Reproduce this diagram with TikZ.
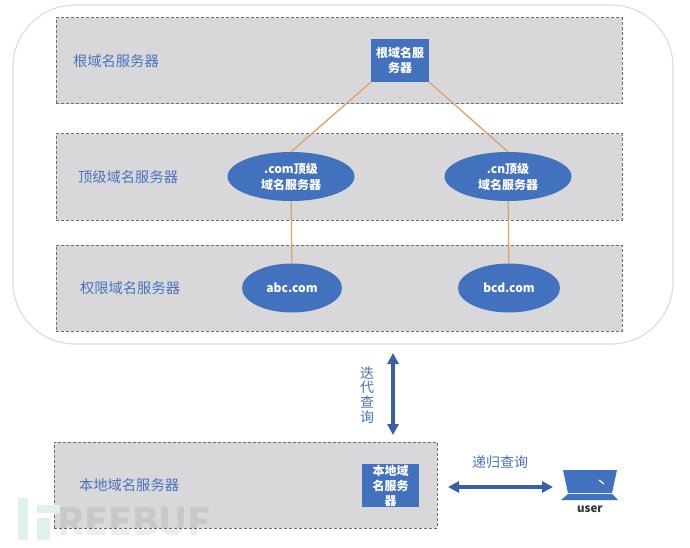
\documentclass[tikz,border=0pt]{standalone}
\usepackage{fontspec}
\setmainfont{Noto Sans CJK SC}
\usetikzlibrary{positioning, arrows.meta, shapes.geometric}
\definecolor{dnsblue}{RGB}{66,113,190}
\definecolor{dnsdark}{RGB}{56,96,168}
\definecolor{labelblue}{RGB}{72,115,190}
\definecolor{bandgray}{RGB}{216,216,218}
\definecolor{dashgray}{RGB}{110,110,112}
\definecolor{linkorange}{RGB}{224,160,105}
\definecolor{marktint}{RGB}{224,240,235}
\tikzset{
x=1pt, y=1pt,
band/.style={draw=dashgray, fill=bandgray, densely dashed, line width=1pt, minimum height=86pt, inner sep=0pt}, % the gray layers
layername/.style={text=labelblue, font=\fontsize{14.3}{16}\selectfont},
server/.style={fill=dnsblue, text=white, align=center, font=\fontsize{12}{16}\selectfont\bfseries, inner sep=0pt},
serverbox/.style={server, rectangle, font=\fontsize{12}{15}\selectfont\bfseries},
serverell/.style={server, ellipse},
link/.style={draw=linkorange, line width=1.3pt},
query/.style={draw=dnsdark, line width=4pt, {Triangle[length=11pt,width=11pt]}-{Triangle[length=11pt,width=11pt]}},
}
\begin{document}
\begin{tikzpicture}
      \useasboundingbox (0,0) rectangle (690,547);
      \fill[white] (0,0) rectangle (690,547);
      \coordinate (outerSW) at (13,203);
      \coordinate (outerNE) at (673,542);
      \draw[rounded corners=62pt, draw=black!13, line width=1.2pt] (outerSW) rectangle (outerNE);

      % layers
      \node[band, minimum width=566pt] (rootband) at (339,486) {};
      \node[band, minimum width=566pt, below=29pt of rootband] (topband) {};
      \node[band, minimum width=566pt, below=24pt of topband] (authband) {};
      \node[band, minimum width=383pt] (localband) at (245.5,62) {};

      \node[layername, right=14pt of rootband.west] (rootname) {根域名服务器};
      \node[layername, right=19pt of topband.west] (topname) {顶级域名服务器};
      \node[layername, right=21pt of authband.west] (authname) {权限域名服务器};
      \node[layername, right=22pt of localband.west] (localname) {本地域名服务器};

      % servers
      \node[serverbox, minimum width=58pt, minimum height=43pt] (root) at (400,486.5) {根域名服\\务器};
      \node[serverell, minimum width=127pt, minimum height=49pt] (com) at (291,370.5) {.com顶级\\域名服务器};
      \node[serverell, minimum width=127pt, minimum height=49pt] (cn) at (508,370.5) {.cn顶级\\域名服务器};
      \node[serverell, minimum width=100pt, minimum height=49pt] (abc) at (292,259) {abc.com};
      \node[serverell, minimum width=102pt, minimum height=49pt] (bcd) at (509,259) {bcd.com};
      \node[serverbox, minimum width=57pt, minimum height=43pt] (localsrv) at (390.5,61.5) {本地域\\名服务\\器};

      \draw[link] (root.south west) -- (com.north);
      \draw[link] (root.south east) -- (cn.north);
      \draw[link] (com) -- (abc);
      \draw[link] (cn) -- (bcd);

      % queries
      \coordinate (iterTop) at (393,194);
      \coordinate (iterEnd) at (393,112);
      \draw[query] (iterTop) -- (iterEnd);
      \node[text=labelblue, align=center, font=\fontsize{14}{14.7}\selectfont] (itername) at (367,152) {迭\\代\\查\\询};
      \coordinate (recurEnd) at (448,60);

      % user laptop
      \path[fill=dnsblue] (563,77) -- (617,77) -- (612,54) -- (568,54) -- cycle;
      \path[fill=dnsblue] (568,53) -- (612,53) -- (618,47) -- (561,47) -- cycle;
      \draw[white, line width=1.2pt] (599,67) -- (604,63);
      \node[text=black!80, font=\fontsize{11.5}{12}\selectfont\bfseries] (user) at (590,38) {user};
      \coordinate (laptop) at (553,60);
      \draw[query] (recurEnd) -- (laptop);
      \node[text=labelblue, font=\fontsize{14}{16}\selectfont] (recurname) at (500,85) {递归查询};

      % watermark
      \path[fill=marktint] (18,7) rectangle (28,49);
      \path[fill=marktint] (37,34) rectangle (60,42);
      \path[fill=marktint] (37,7) rectangle (50,29);
      \node[text=black, text opacity=0.07, font=\fontsize{38}{40}\selectfont\bfseries] (mark) at (134,25) {REEBUF};
\end{tikzpicture}
\end{document}
